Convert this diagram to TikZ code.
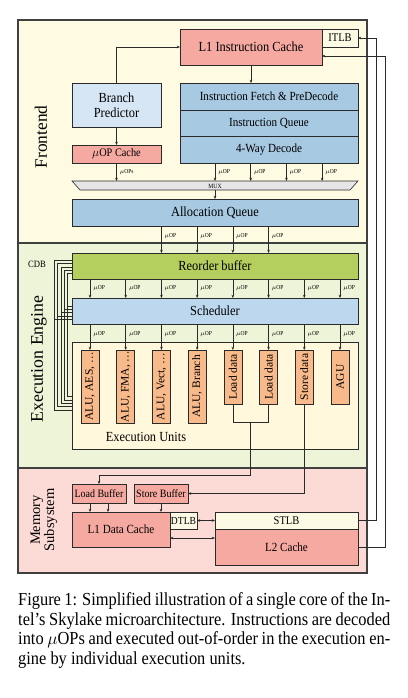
\documentclass[tikz,border=0pt]{standalone}
\usepackage{fontspec}
\setmainfont{Liberation Serif}[FakeStretch=0.893]
\newfontfamily\rotfont{Liberation Serif}
\usepackage{graphicx}
\usetikzlibrary{arrows.meta,calc}
\definecolor{feBG}{HTML}{FEFBE2}
\definecolor{eeBG}{HTML}{EEF4D8}
\definecolor{memBG}{HTML}{FCDAD6}
\definecolor{salmon}{HTML}{F6A9A1}
\definecolor{bpBlue}{HTML}{D6E6F4}
\definecolor{stBlue}{HTML}{A7C9E2}
\definecolor{robGreen}{HTML}{B5CF5E}
\definecolor{schBlue}{HTML}{BDD8EE}
\definecolor{euBG}{HTML}{FFF8DC}
\definecolor{unitOr}{HTML}{F9BA8B}
\definecolor{muxGr}{HTML}{E6E6E6}
\definecolor{tlbBG}{HTML}{FCFAE4}
\definecolor{lineC}{HTML}{2A2A2A}
\newcommand\setfs[1]{\fontsize{\fpeval{#1*1.12}}{\fpeval{#1*1.12}}\selectfont}
\newcommand\setfsb[2]{\fontsize{\fpeval{#1*1.12}}{#2}\selectfont}
\newcommand\rotfs[1]{\rotfont\fontsize{#1}{#1}\selectfont}
\tikzset{
 blk/.style={draw=lineC, line width=0.7pt, inner sep=0pt, outer sep=0pt, align=center},
 arr/.style={-{Stealth[length=3.2pt,width=2.6pt]}, draw=lineC, line width=0.6pt},
 darr/.style={{Stealth[length=3.2pt,width=2.6pt]}-{Stealth[length=3.2pt,width=2.6pt]}, draw=lineC, line width=0.6pt},
 wire/.style={draw=lineC, line width=0.6pt},
 uop/.style={font=\setfs{5.5}, inner sep=0pt, anchor=west, xshift=3pt},
 region/.style={draw=black!75, line width=1.1pt},
 unitbox/.style={blk, fill=unitOr, minimum width=18pt, font=\rotfs{11.5}},
}
\begin{document}
\begin{tikzpicture}[x=1pt,y=-1pt]
\useasboundingbox (0,0) rectangle (407,698);
\fill[white] (0,0) rectangle (407,698);
% regions
\draw[region, fill=feBG] (18,20) rectangle (367,243);
\draw[region, fill=eeBG] (18,243) rectangle (367,468);
\draw[region, fill=memBG] (18,468) rectangle (367,573);
\node[rotate=90, font=\rotfs{17.4}, inner sep=0pt] (fel) at (41,137) {Frontend};
\node[rotate=90, font=\rotfs{17.8}, inner sep=0pt] (eel) at (39,359) {Execution Engine};
\node[rotate=90, font=\rotfont\fontsize{14.5}{14}\selectfont, align=center, inner sep=0pt] (meml) at (44,520) {Memory\\Subsystem};
\node[font=\setfs{8.6}, inner sep=0pt] (cdb) at (37,264) {CDB};
% column coordinates
\foreach \k in {0,...,7}{\coordinate (c\k) at ({90+35.714*\k},0);}
\foreach \k in {0,...,3}{\coordinate (dc\k) at ({215+35.714*\k},0);}
% frontend
\node[blk, fill=salmon, minimum width=142pt, minimum height=36pt, font=\setfs{12.4}] (l1i) at (251,47) {L1 Instruction Cache};
\node[blk, fill=tlbBG, minimum width=36pt, minimum height=18pt, font=\setfs{10.5}] (itlb) at (340,38) {ITLB};
\node[blk, fill=bpBlue, minimum width=89pt, minimum height=44pt, font=\setfsb{12.4}{15}] (bp) at (116.5,105) {Branch\\Predictor};
\node[blk, fill=salmon, minimum width=89pt, minimum height=18pt, font=\setfs{10.3}] (uc) at (116.5,154) {$\mu$OP Cache};
\node[blk, fill=stBlue, minimum width=178pt, minimum height=27pt, font=\setfs{11.1}] (ifd) at (269,96.5) {Instruction Fetch \& PreDecode};
\node[blk, fill=stBlue, minimum width=178pt, minimum height=26pt, font=\setfs{11.1}] (iq) at (269,123) {Instruction Queue};
\node[blk, fill=stBlue, minimum width=178pt, minimum height=27pt, font=\setfs{11.1}] (dec) at (269,149.5) {4-Way Decode};
\draw[wire, fill=muxGr] (72,181) -- (358,181) -- (350,190) -- (80,190) -- cycle;
\node[font=\setfs{5.7}, inner sep=0pt] (mux) at (215,186) {MUX};
\coordinate (muxt) at (215,181);
\coordinate (muxb) at (215,190);
\node[blk, fill=stBlue, minimum width=286pt, minimum height=27pt, font=\setfs{12.4}] (aq) at (215,212.5) {Allocation Queue};
% execution engine
\node[blk, fill=robGreen, minimum width=286pt, minimum height=26pt, font=\setfs{12.4}] (rob) at (215,266) {Reorder buffer};
\node[blk, fill=schBlue, minimum width=286pt, minimum height=26pt, font=\setfs{12.4}] (sched) at (215,311) {Scheduler};
\node[blk, fill=euBG, minimum width=286pt, minimum height=107pt] (eu) at (215,395.5) {};
\node[font=\setfs{12.4}, inner sep=0pt] (eul) at (146,437) {Execution Units};
\node[unitbox, minimum height=73pt] (u0) at (c0 |- 0,386.5) {\rotatebox{90}{ALU, AES, \dots}};
\node[unitbox, minimum height=73pt] (u1) at (c1 |- 0,386.5) {\rotatebox{90}{ALU, FMA, \dots}};
\node[unitbox, minimum height=73pt] (u2) at (c2 |- 0,386.5) {\rotatebox{90}{ALU, Vect, \dots}};
\node[unitbox, minimum height=73pt] (u3) at (c3 |- 0,386.5) {\rotatebox{90}{ALU, Branch}};
\node[unitbox, minimum height=54pt] (u4) at (c4 |- 0,377) {\rotatebox{90}{Load data}};
\node[unitbox, minimum height=54pt] (u5) at (c5 |- 0,377) {\rotatebox{90}{Load data}};
\node[unitbox, minimum height=54pt] (u6) at (c6 |- 0,377) {\rotatebox{90}{Store data}};
\node[unitbox, minimum height=54pt] (u7) at (c7 |- 0,377) {\rotatebox{90}{AGU}};
% memory
\node[blk, fill=salmon, minimum width=54pt, minimum height=19pt, font=\setfs{10}] (lb) at (99,493.5) {Load Buffer};
\node[blk, fill=salmon, minimum width=54pt, minimum height=19pt, font=\setfs{10}] (sb) at (161,493.5) {Store Buffer};
\node[blk, fill=salmon, minimum width=98pt, minimum height=35pt, font=\setfs{11.1}] (l1d) at (121,529.5) {L1 Data Cache};
\node[blk, fill=tlbBG, minimum width=27pt, minimum height=17pt, font=\setfs{9.6}] (dtlb) at (183.5,520.5) {DTLB};
\node[blk, fill=tlbBG, minimum width=143pt, minimum height=17pt, font=\setfs{10.5}] (stlb) at (286.5,520.5) {STLB};
\node[blk, fill=salmon, minimum width=143pt, minimum height=36pt, font=\setfs{11.1}] (l2) at (286.5,547) {L2 Cache};
% frontend connectors
\draw[arr] (l1i.south) -- (l1i.south |- ifd.north);
\draw[arr] (bp.north) |- (l1i.west);
\draw[arr] (bp.south) -- (uc.north);
\draw[arr] (uc.south) -- (uc.south |- muxt) node[uop, midway] {$\mu$OPs};
\foreach \k in {0,...,3}{
  \draw[arr] (dec.south -| dc\k) -- (muxt -| dc\k) node[uop, midway] {$\mu$OP};
}
\draw[arr] (muxb) -- (muxb |- aq.north);
\foreach \k in {2,...,5}{
  \draw[arr] (aq.south -| c\k) -- (rob.north -| c\k) node[uop, pos=0.37] {$\mu$OP};
}
% execution connectors
\foreach \k in {0,...,7}{
  \draw[arr] (rob.south -| c\k) -- (sched.north -| c\k) node[uop, midway] {$\mu$OP};
  \draw[arr] (sched.south -| c\k) -- (u\k.north) node[uop, pos=0.38] {$\mu$OP};
}
% CDB bus
\foreach \i in {0,...,4}{
  \pgfmathsetmacro\xx{54+3.4*\i}
  \pgfmathsetmacro\ya{260+3.4*\i}
  \pgfmathsetmacro\yb{410-3.4*\i}
  \pgfmathsetmacro\ys{319-3.2*\i}
  \coordinate (ca) at (\xx,\ya);
  \coordinate (cb) at (\xx,\yb);
  \coordinate (cs) at (\xx,\ys);
  \draw[wire] (rob.west |- ca) -- (ca) -- (cb) -- (eu.west |- cb);
  \draw[wire] (cs) -- (sched.west |- cs);
}
% load / store paths
\coordinate (lj) at ($(u4.south)!0.5!(u5.south)+(0,18)$);
\draw[wire] (u4.south) -- ++(0,18) -| (u5.south);
\draw[arr] (lj) -- ++(0,53) -| (lb.north);
\draw[arr] (u6.south) |- (sb.east);
\draw[arr] ([xshift=-9pt]lb.south) -- ([xshift=-9pt]lb.south |- l1d.north);
\draw[arr] ([xshift=9pt]lb.south) -- ([xshift=9pt]lb.south |- l1d.north);
\draw[arr] (sb.south) -- (sb.south |- l1d.north);
\draw[darr] (dtlb.east) -- (dtlb.east -| stlb.west);
\coordinate (l1dx) at ($(l1d.east)+(0,8.5)$);
\draw[darr] (l1dx) -- (l1dx -| l2.west);
\draw[arr] (stlb.east) -- ++(18,0) |- (itlb.east);
\coordinate (l1ix) at ($(l1i.east)+(0,9)$);
\draw[arr] (l2.east) -- ++(27,0) |- (l1ix);
% caption
\node[anchor=base west, font=\setfs{16.4}, inner sep=0pt] (cap1) at (18,605.5) {\makebox[372pt][s]{Figure 1: Simplified illustration of a single core of the In-}};
\node[anchor=base west, font=\setfs{16.4}, inner sep=0pt] (cap2) at (18,625) {\makebox[372pt][s]{tel's Skylake microarchitecture. Instructions are decoded}};
\node[anchor=base west, font=\setfs{16.4}, inner sep=0pt] (cap3) at (18,644.5) {\makebox[372pt][s]{into $\mu$OPs and executed out-of-order in the execution en-}};
\node[anchor=base west, font=\setfs{16.4}, inner sep=0pt] (cap4) at (18,664) {gine by individual execution units.};
\end{tikzpicture}
\end{document}
